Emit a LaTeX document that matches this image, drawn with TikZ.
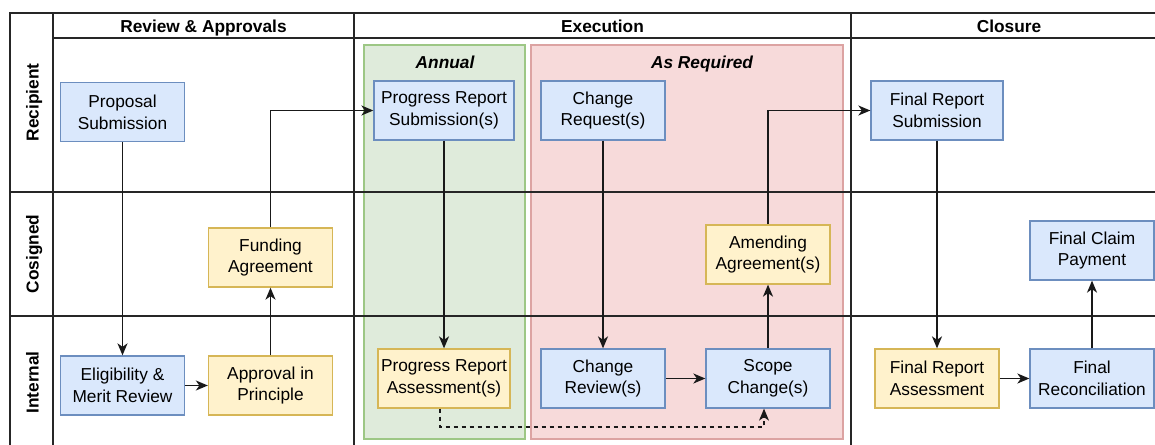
\documentclass[tikz,border=0pt]{standalone}
\usepackage{fontspec}
\setmainfont{Liberation Sans}
\usetikzlibrary{arrows.meta}
\definecolor{bluefill}{HTML}{DAE8FC}
\definecolor{bluedraw}{HTML}{6C8EBF}
\definecolor{yelfill}{HTML}{FFF2CC}
\definecolor{yeldraw}{HTML}{D6B656}
\definecolor{grnfill}{HTML}{DFEBDB}
\definecolor{grndraw}{HTML}{9DC785}
\definecolor{redfill}{HTML}{F7DADA}
\definecolor{reddraw}{HTML}{DCA3A2}
\tikzset{
  txt/.style={font=\fontsize{17.3}{21.7}\selectfont, align=center},
  box/.style={txt, rectangle, minimum width=124pt, minimum height=59pt, inner sep=0pt, line width=1.3pt},
  bluebox/.style={box, fill=bluefill, draw=bluedraw},
  yelbox/.style={box, fill=yelfill, draw=yeldraw},
  frame/.style={line width=1.5pt, black!85},
  hdr/.style={txt, font=\fontsize{17.3}{21.7}\selectfont\bfseries, text height=12.5pt, text depth=3.5pt, inner sep=0pt},
  sub/.style={hdr, font=\fontsize{17.3}{21.7}\selectfont\bfseries\itshape},
  flow/.style={line width=1.5pt, black!90, -{Stealth[length=12pt,width=10pt,inset=3.5pt]}},
}
\begin{document}
\begin{tikzpicture}[x=1pt,y=-1pt]
\useasboundingbox (0,0) rectangle (1155,444);
\fill[white] (0,0) rectangle (1155,444);

% phase regions inside Execution
\draw[fill=grnfill, draw=grndraw, line width=1.3pt] (364,45) rectangle (525,439);
\draw[fill=redfill, draw=reddraw, line width=1.3pt] (531,45) rectangle (843,439);
\node[sub] (annual) at (445,64) {Annual};
\node[sub] (asreq) at (702,64) {As Required};

% pool frame and lanes
\draw[frame] (10,460) -- (10,13) -- (1170,13);
\draw[frame] (53,13) -- (53,460);
\draw[frame] (53,38) -- (1170,38);
\draw[frame] (10,192) -- (1170,192);
\draw[frame] (10,316) -- (1170,316);
\draw[frame] (354,13) -- (354,460);
\draw[frame] (851,13) -- (851,460);

% column headers
\node[hdr] (hrev) at (203.5,28.5) {Review \& Approvals};
\node[hdr] (hexe) at (602.5,28.5) {Execution};
\node[hdr] (hclo) at (1009,28.5) {Closure};

% lane labels
\node[hdr, rotate=90] (lrec) at (34,102.5) {Recipient};
\node[hdr, rotate=90] (lcos) at (34,254) {Cosigned};
\node[hdr, rotate=90] (lint) at (34,382.5) {Internal};

% process steps
\node[bluebox] (prop) at (122.5,112) {Proposal\\Submission};
\node[bluebox] (elig) at (122.5,385.5) {Eligibility \&\\Merit Review};
\node[yelbox] (aip) at (270.5,385.5) {Approval in\\Principle};
\node[yelbox] (fund) at (270.5,257.5) {Funding\\Agreement};
\node[bluebox, minimum width=140pt] (prs) at (444,110.5) {Progress Report\\Submission(s)};
\node[yelbox, minimum width=132pt] (pra) at (444,378.5) {Progress Report\\Assessment(s)};
\node[bluebox] (creq) at (603,110.5) {Change\\Request(s)};
\node[bluebox] (crev) at (603,378.5) {Change\\Review(s)};
\node[bluebox] (scope) at (768,378.5) {Scope\\Change(s)};
\node[yelbox] (amend) at (768,254.5) {Amending\\Agreement(s)};
\node[bluebox, minimum width=132pt] (frs) at (937,110.5) {Final Report\\Submission};
\node[yelbox] (fra) at (937,378.5) {Final Report\\Assessment};
\node[bluebox] (frec) at (1092,378.5) {Final\\Reconciliation};
\node[bluebox] (fcp) at (1092,250.5) {Final Claim\\Payment};

% connectors
\draw[flow] (prop) -- (elig);
\draw[flow] (elig) -- (aip);
\draw[flow] (aip) -- (fund);
\draw[flow] (fund.north) |- (prs.west);
\draw[flow] (prs) -- (pra);
\draw[flow] (creq) -- (crev);
\draw[flow] (crev) -- (scope);
\draw[flow] (scope) -- (amend);
\draw[flow] (amend.north) |- (frs.west);
\draw[flow] (frs) -- (fra);
\draw[flow] (fra) -- (frec);
\draw[flow] (frec) -- (fcp);
\coordinate (dlow) at ([xshift=-4pt]pra.south |- 0,427);
\draw[flow, line width=1.2pt, dash pattern=on 4pt off 4pt] ([xshift=-4pt]pra.south) -- (dlow) -| ([xshift=-4pt]scope.south);
\end{tikzpicture}
\end{document}
